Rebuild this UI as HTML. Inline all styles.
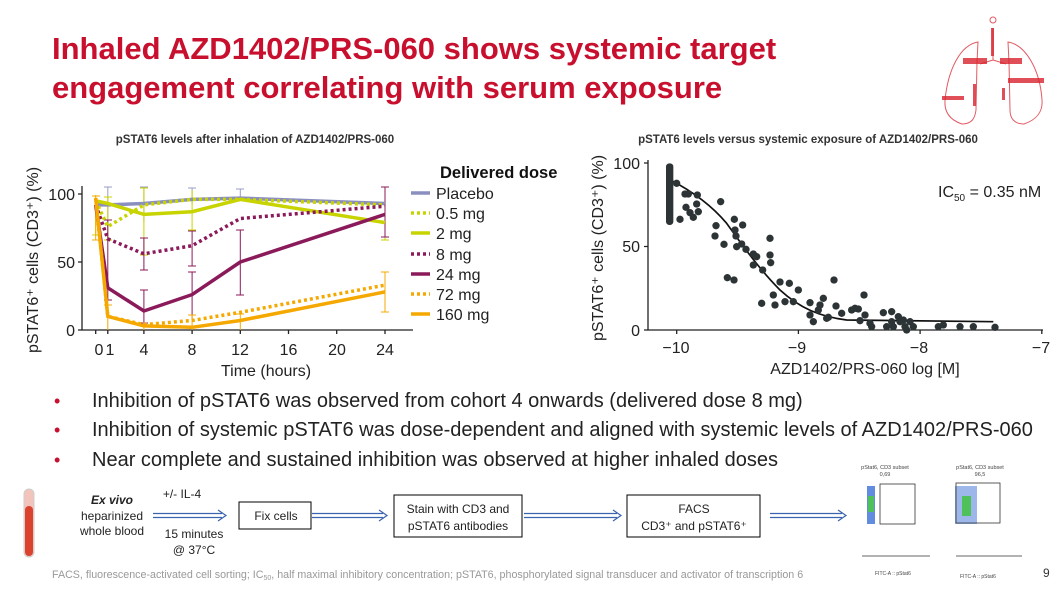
<!DOCTYPE html>
<html><head><meta charset="utf-8"><style>
body{margin:0;background:#fff}
svg text{font-family:"Liberation Sans",sans-serif}
</style></head><body>
<svg width="1063" height="591" viewBox="0 0 1063 591" xmlns="http://www.w3.org/2000/svg">
<rect width="1063" height="591" fill="#fff"/>
<!-- title -->
<text x="52" y="59" font-size="31" font-weight="bold" fill="#c8102e">Inhaled AZD1402/PRS-060 shows systemic target</text>
<text x="52" y="98" font-size="31" font-weight="bold" fill="#c8102e">engagement correlating with serum exposure</text>
<!-- logo -->
<g fill="none" stroke="#d9232e" stroke-width="1" opacity="0.75">
<path d="M993 28 V60 M993 60 L980 64 M993 60 L1006 64"/>
<path d="M978 42 C960 45 948 70 945 100 C944 112 950 120 962 124 C972 124 975 118 976 110 L977 62 Z"/>
<path d="M1008 42 C1026 45 1040 70 1042 100 C1043 112 1036 120 1024 124 C1014 124 1010 118 1010 110 L1009 62 Z"/>
<circle cx="993" cy="20" r="3"/>
</g>
<g fill="#d9232e" opacity="0.8">
<rect x="963" y="58" width="24" height="6"/><rect x="1000" y="58" width="22" height="6"/>
<rect x="1008" y="78" width="36" height="5"/><rect x="942" y="96" width="22" height="4"/>
<rect x="1002" y="88" width="3" height="12"/><rect x="973" y="84" width="3" height="22"/>
<rect x="991" y="28" width="3" height="28"/>
</g>
<!-- LEFT CHART -->
<text x="255" y="143" font-size="11.5" font-weight="bold" fill="#333" text-anchor="middle">pSTAT6 levels after inhalation of AZD1402/PRS-060</text>
<g stroke="#222" stroke-width="1.3" fill="none">
<path d="M82 186 V330 H413"/>
<path d="M78 194 H82 M78 262 H82 M78 330 H82"/>
<path d="M95.7 330 v4 M107.8 330 v4 M143.9 330 v4 M192.1 330 v4 M240.3 330 v4 M288.5 330 v4 M336.7 330 v4 M385 330 v4"/>
</g>
<g font-size="16" fill="#222" text-anchor="end">
<text x="75" y="200">100</text><text x="75" y="268">50</text><text x="75" y="336">0</text>
</g>
<g font-size="16" fill="#222" text-anchor="middle">
<text x="99" y="355">0</text><text x="110" y="355">1</text><text x="144" y="355">4</text><text x="192" y="355">8</text><text x="240" y="355">12</text><text x="288.5" y="355">16</text><text x="337" y="355">20</text><text x="385" y="355">24</text>
<text x="266" y="376">Time (hours)</text>
</g>
<text transform="translate(38,260) rotate(-90)" font-size="16" fill="#222" text-anchor="middle">pSTAT6⁺ cells (CD3⁺) (%)</text>
<!-- error bars -->
<g stroke-width="1" fill="none">
<g stroke="#9a9cc8"><path d="M107.8 187 V218 M104 187 h8 M143.9 187 V222 M140 187 h8 M192.1 188 V204 M188 188 h8 M240.3 189 V197 M236 189h8 M385 195 V214"/></g>
<g stroke="#c8d400"><path d="M95.7 195 V235 M92 235 h8 M107.8 197 V240 M104 197 h8 M104 240 h8 M143.9 188 V255 M140 188h8 M140 255h8 M192.1 190 V230 M188 230h8 M385 205 V240 M381 240h8"/></g>
<g stroke="#8b1a5a"><path d="M107.8 220 V300 M104 220h8 M104 300h8 M143.9 238 V270 M140 238h8 M140 270h8 M143.9 290 V323 M140 290h8 M140 323h8 M192.1 231 V266 M188 231h8 M188 266h8 M192.1 272 V320 M188 272h8 M240.3 230 V295 M236 230h8 M236 295h8 M385 187 V237 M381 187h8 M381 237h8"/></g>
<g stroke="#f5a800"><path d="M107.8 300 V330 M104 305h8 M143.9 322 V330 M192.1 315 V330 M188 315h8 M240.3 314 V330 M236 314h8 M385 272 V312 M381 272h8 M381 312h8 M95.7 196 V240 M92 196h8 M92 240h8"/></g>
</g>
<!-- lines -->
<g fill="none" stroke-width="3.5">
<polyline stroke="#8a8fbf" points="95.7,204.9 107.8,204.9 143.9,203.5 192.1,199.4 240.3,198.1 385,203.5"/>
<polyline stroke="#c8d400" stroke-dasharray="3,3" points="95.7,200.8 107.8,226.6 143.9,204.9 192.1,199.4 240.3,199.4 385,204.9"/>
<polyline stroke="#c8d400" points="95.7,200.8 107.8,203.5 143.9,214.4 192.1,211.7 240.3,199.4 385,222.6"/>
<polyline stroke="#8b1a5a" stroke-dasharray="3,3" points="95.7,204.9 107.8,238.9 143.9,253.8 192.1,245.7 240.3,218.5 385,206.2"/>
<polyline stroke="#8b1a5a" points="95.7,204.9 107.8,287.8 143.9,311 192.1,294.6 240.3,262 385,214.4"/>
<polyline stroke="#f5a800" stroke-dasharray="3,3" points="95.7,198.1 107.8,316.4 143.9,324.6 192.1,320.5 240.3,312.3 385,285.1"/>
<polyline stroke="#f5a800" points="95.7,198.1 107.8,316.4 143.9,325.9 192.1,327.3 240.3,320.5 385,291.9"/>
</g>
<!-- legend -->
<text x="440" y="178" font-size="16.5" font-weight="bold" fill="#111">Delivered dose</text>
<g stroke-width="3.5">
<line x1="411" y1="193" x2="430" y2="193" stroke="#8a8fbf"/>
<line x1="411" y1="213" x2="430" y2="213" stroke="#c8d400" stroke-dasharray="3,3"/>
<line x1="411" y1="233" x2="430" y2="233" stroke="#c8d400"/>
<line x1="411" y1="254" x2="430" y2="254" stroke="#8b1a5a" stroke-dasharray="3,3"/>
<line x1="411" y1="274" x2="430" y2="274" stroke="#8b1a5a"/>
<line x1="411" y1="294" x2="430" y2="294" stroke="#f5a800" stroke-dasharray="3,3"/>
<line x1="411" y1="314" x2="430" y2="314" stroke="#f5a800"/>
</g>
<g font-size="16" fill="#222">
<text x="436" y="199">Placebo</text><text x="436" y="219">0.5 mg</text><text x="436" y="239">2 mg</text><text x="436" y="260">8 mg</text><text x="436" y="280">24 mg</text><text x="436" y="300">72 mg</text><text x="436" y="320">160 mg</text>
</g>
<!-- RIGHT CHART -->
<text x="808" y="143" font-size="11.5" font-weight="bold" fill="#333" text-anchor="middle">pSTAT6 levels versus systemic exposure of AZD1402/PRS-060</text>
<g stroke="#222" stroke-width="1.3" fill="none">
<path d="M648 160 V330 H1043"/>
<path d="M644 163 H648 M644 246.5 H648 M644 330 H648 M676.7 330 v4 M798.4 330 v4 M920.1 330 v4 M1041.8 330 v4"/>
</g>
<g font-size="16" fill="#222" text-anchor="end">
<text x="640" y="169">100</text><text x="640" y="252">50</text><text x="640" y="336">0</text>
</g>
<g font-size="16" fill="#222" text-anchor="middle">
<text x="676" y="353">−10</text><text x="797" y="353">−9</text><text x="919" y="353">−8</text><text x="1041" y="353">−7</text>
<text x="865" y="374">AZD1402/PRS-060 log [M]</text>
</g>
<text transform="translate(603,248) rotate(-90)" font-size="16" fill="#222" text-anchor="middle">pSTAT6⁺ cells (CD3⁺) (%)</text>
<text x="938" y="197" font-size="16" fill="#222">IC<tspan font-size="10" dy="4">50</tspan><tspan dy="-4"> = 0.35 nM</tspan></text>
<g transform="translate(580,130) scale(0.33333)">
<path d="M268 148 C330 180 390 220 440 280 C490 350 540 420 600 480 C660 535 720 560 800 570 L1240 575" fill="none" stroke="#111" stroke-width="5"/>
<g fill="#2d3436">
<rect x="258" y="100" width="22" height="185" rx="10"/>
<circle cx="290" cy="160" r="11"/><circle cx="300" cy="268" r="11"/><circle cx="315" cy="192" r="11"/><circle cx="325" cy="192" r="11"/><circle cx="318" cy="232" r="11"/><circle cx="330" cy="248" r="11"/><circle cx="340" cy="262" r="11"/><circle cx="350" cy="222" r="11"/><circle cx="352" cy="195" r="11"/><circle cx="355" cy="245" r="11"/><circle cx="405" cy="318" r="11"/><circle cx="408" cy="287" r="11"/><circle cx="422" cy="215" r="11"/><circle cx="432" cy="343" r="11"/><circle cx="442" cy="443" r="11"/><circle cx="462" cy="450" r="11"/><circle cx="463" cy="268" r="11"/><circle cx="465" cy="300" r="11"/><circle cx="468" cy="318" r="11"/><circle cx="470" cy="350" r="11"/><circle cx="488" cy="285" r="11"/><circle cx="485" cy="342" r="11"/><circle cx="498" cy="358" r="11"/><circle cx="520" cy="372" r="11"/><circle cx="530" cy="380" r="11"/><circle cx="520" cy="405" r="11"/><circle cx="548" cy="420" r="11"/><circle cx="545" cy="520" r="11"/><circle cx="570" cy="325" r="11"/><circle cx="570" cy="375" r="11"/><circle cx="572" cy="398" r="11"/><circle cx="580" cy="495" r="11"/><circle cx="585" cy="525" r="11"/><circle cx="600" cy="456" r="11"/><circle cx="615" cy="515" r="11"/><circle cx="628" cy="460" r="11"/><circle cx="640" cy="515" r="11"/><circle cx="655" cy="480" r="11"/><circle cx="690" cy="518" r="11"/><circle cx="690" cy="555" r="11"/><circle cx="700" cy="575" r="11"/><circle cx="715" cy="540" r="11"/><circle cx="720" cy="525" r="11"/><circle cx="730" cy="505" r="11"/><circle cx="740" cy="565" r="11"/><circle cx="745" cy="562" r="11"/><circle cx="762" cy="450" r="11"/><circle cx="768" cy="528" r="11"/><circle cx="785" cy="550" r="11"/><circle cx="815" cy="540" r="11"/><circle cx="825" cy="535" r="11"/><circle cx="835" cy="537" r="11"/><circle cx="840" cy="572" r="11"/><circle cx="852" cy="495" r="11"/><circle cx="855" cy="555" r="11"/><circle cx="870" cy="580" r="11"/><circle cx="875" cy="590" r="11"/><circle cx="910" cy="548" r="11"/><circle cx="920" cy="590" r="11"/><circle cx="935" cy="545" r="11"/><circle cx="935" cy="575" r="11"/><circle cx="940" cy="590" r="11"/><circle cx="955" cy="560" r="11"/><circle cx="960" cy="575" r="11"/><circle cx="970" cy="570" r="11"/><circle cx="975" cy="590" r="11"/><circle cx="980" cy="600" r="11"/><circle cx="990" cy="575" r="11"/><circle cx="1000" cy="590" r="11"/><circle cx="1075" cy="590" r="11"/><circle cx="1090" cy="585" r="11"/><circle cx="1140" cy="590" r="11"/><circle cx="1180" cy="590" r="11"/><circle cx="1245" cy="592" r="11"/>
</g>
</g>
<!-- bullets -->
<g fill="#c8102e" font-size="18"><text x="54" y="407">•</text><text x="54" y="436">•</text><text x="54" y="466">•</text></g>
<g font-size="20" fill="#222">
<text x="92" y="407">Inhibition of pSTAT6 was observed from cohort 4 onwards (delivered dose 8 mg)</text>
<text x="92" y="436">Inhibition of systemic pSTAT6 was dose-dependent and aligned with systemic levels of AZD1402/PRS-060</text>
<text x="92" y="466">Near complete and sustained inhibition was observed at higher inhaled doses</text>
</g>
<!-- flow -->
<rect x="24" y="489" width="10" height="68" rx="5" fill="#f3c4bc" stroke="#ccc"/>
<rect x="25" y="506" width="8" height="50" rx="4" fill="#d9432f"/>
<g font-size="12" fill="#222" text-anchor="middle">
<text x="112" y="504" font-style="italic" font-weight="bold">Ex vivo</text>
<text x="112" y="520">heparinized</text><text x="112" y="535">whole blood</text>
<text x="182" y="498">+/- IL-4</text>
<text x="194" y="538">15 minutes</text><text x="194" y="554">@ 37°C</text>
<text x="276" y="520">Fix cells</text>
<text x="458" y="513">Stain with CD3 and</text><text x="458" y="530">pSTAT6 antibodies</text>
<text x="694" y="513">FACS</text><text x="694" y="530">CD3⁺ and pSTAT6⁺</text>
</g>
<g fill="none" stroke="#000" stroke-width="1"><rect x="239" y="502" width="72" height="27"/><rect x="394" y="495" width="128" height="42"/><rect x="627" y="495" width="133" height="42"/></g>
<g stroke="#3a64b0" stroke-width="1.2" fill="none">
<path d="M153 513.5 H222 M153 517.5 H222 M218 510 L226 515.5 L218 521"/>
<path d="M312 513.5 H383 M312 517.5 H383 M379 510 L387 515.5 L379 521"/>
<path d="M524 513.5 H617 M524 517.5 H617 M613 510 L621 515.5 L613 521"/>
<path d="M770 513.5 H842 M770 517.5 H842 M838 510 L846 515.5 L838 521"/>
</g>
<g font-size="5.5" fill="#444" text-anchor="middle"><text x="885" y="469">pStat6, CD3 subset</text><text x="885" y="476">0,69</text><text x="980" y="469">pStat6, CD3 subset</text><text x="980" y="476">96,5</text></g>
<rect x="867" y="486" width="8" height="38" fill="#3b6fd8" opacity="0.8"/><rect x="868" y="496" width="6" height="16" fill="#4fc15a"/>
<rect x="955" y="486" width="22" height="38" fill="#3b6fd8" opacity="0.5"/><rect x="962" y="496" width="9" height="20" fill="#4fc15a"/>
<g fill="none" stroke="#333" stroke-width="0.8"><rect x="880" y="484" width="35" height="40"/><rect x="956" y="483" width="44" height="40"/>
<path d="M862 556 H930 M956 556 H1022"/></g>
<g font-size="5" fill="#444"><text x="875" y="575">FITC-A :: pStat6</text><text x="960" y="578">FITC-A :: pStat6</text></g>
<text x="52" y="578" font-size="10.7" fill="#999">FACS, fluorescence-activated cell sorting; IC<tspan font-size="7" dy="2">50</tspan><tspan dy="-2">, half maximal inhibitory concentration; pSTAT6, phosphorylated signal transducer and activator of transcription 6</tspan></text>
<text x="1043" y="577" font-size="12" fill="#333">9</text>
</svg>
</body></html>
